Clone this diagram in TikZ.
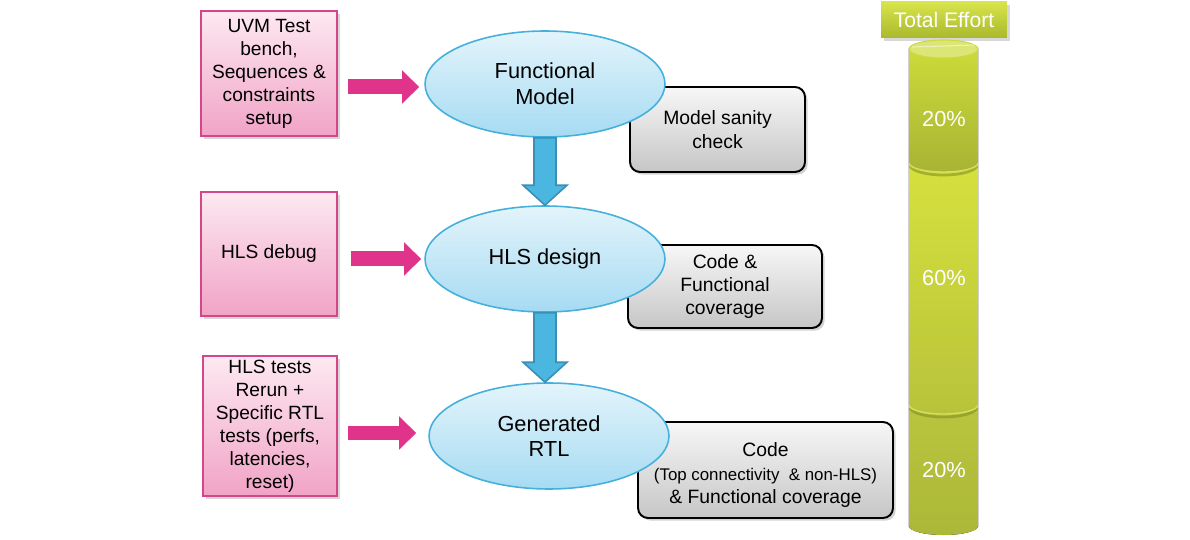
\documentclass[tikz,border=0pt]{standalone}
\usepackage{fontspec}
\setmainfont{Liberation Sans}
\usetikzlibrary{shapes.geometric,shadows,calc,arrows.meta}
\definecolor{pinktop}{HTML}{FDE9F1}
\definecolor{pinkbot}{HTML}{F1A3C6}
\definecolor{pinkborder}{HTML}{D3468A}
\definecolor{arrowpink}{HTML}{E0338A}
\definecolor{elltop}{HTML}{E3F4FB}
\definecolor{ellbot}{HTML}{A6DBF2}
\definecolor{ellborder}{HTML}{45B0DC}
\definecolor{arrowblue}{HTML}{4BB7E0}
\definecolor{arrowblueborder}{HTML}{3A8FB6}
\definecolor{graytop}{HTML}{F7F7F7}
\definecolor{graybot}{HTML}{C6C6C6}
\definecolor{segatop}{HTML}{CDDA3A}
\definecolor{segabot}{HTML}{A8B434}
\definecolor{segbtop}{HTML}{D6E13E}
\definecolor{segbbot}{HTML}{B9C33A}
\definecolor{segctop}{HTML}{BAC53E}
\definecolor{segcbot}{HTML}{ABB838}
\definecolor{segcap}{HTML}{DCE676}
\definecolor{segshade}{HTML}{7F8A22}
\definecolor{seghigh}{HTML}{D5E05A}
\definecolor{totaltop}{HTML}{D8E44C}
\definecolor{totalbot}{HTML}{A9B92C}
\begin{document}
\begin{tikzpicture}[x=0.02cm,y=-0.02cm,
  pinkbox/.style={draw=pinkborder, line width=0.8pt, top color=pinktop, bottom color=pinkbot,
    align=center, inner sep=0pt, font=\fontsize{10.9}{13.1}\selectfont,
    drop shadow={shadow xshift=1.5pt,shadow yshift=-1.5pt,opacity=0.3}},
  ellip/.style={ellipse, draw=ellborder, line width=0.9pt, top color=elltop, bottom color=ellbot,
    minimum width=4.8cm, minimum height=2.12cm, inner sep=0pt, align=center,
    font=\fontsize{12.4}{14.6}\selectfont},
  graybox/.style={draw=black, line width=1.1pt, rounded corners=0.2cm, top color=graytop,
    bottom color=graybot, align=center, inner sep=0pt, font=\fontsize{11}{13.3}\selectfont,
    drop shadow={shadow xshift=1.5pt,shadow yshift=-1.5pt,opacity=0.35}},
  bluearrow/.style={fill=arrowblue, draw=arrowblueborder, line width=0.9pt, line join=miter},
  pinkarrow/.style={draw=arrowpink, line width=0.3cm, -{Triangle[width=0.64cm,length=0.34cm]}},
  pct/.style={text=white, font=\fontsize{12.4}{14}\selectfont},
  totalbox/.style={top color=totaltop, bottom color=totalbot, text=white, inner sep=0pt,
    minimum width=2.52cm, minimum height=0.72cm, font=\fontsize{12}{14}\selectfont,
    drop shadow={shadow xshift=1.5pt,shadow yshift=-1.5pt,opacity=0.3}},
  segline/.style={draw=segshade, line width=1.6pt, opacity=0.55},
  seghl/.style={draw=seghigh, line width=0.8pt}
]
\useasboundingbox (0,0) rectangle (1190,540);
\fill[white] (0,0) rectangle (1190,540);

% pink boxes
\node[pinkbox, minimum width=2.72cm, minimum height=2.5cm] (b1) at (269,73.5)
  {UVM Test\\bench,\\Sequences \&\\constraints\\setup};
\node[pinkbox, minimum width=2.72cm, minimum height=2.48cm] (b2) at (269,254) {HLS debug};
\node[pinkbox, minimum width=2.68cm, minimum height=2.8cm] (b3) at (270,426)
  {HLS tests\\Rerun +\\Specific RTL\\tests (perfs,\\latencies,\\reset)};

% gray boxes (behind ellipses)
\node[graybox, minimum width=3.5cm, minimum height=1.7cm] (g1) at (717.5,129.5)
  {Model sanity\\check};
\node[graybox, minimum width=3.88cm, minimum height=1.66cm] (g2) at (725,286.5)
  {Code \&\\Functional\\coverage};
\node[graybox, minimum width=5.1cm, minimum height=1.92cm] (g3) at (765.5,470)
  {\rule{0pt}{14pt}Code\\{\fontsize{9.6}{12.2}\selectfont(Top connectivity\ \ \& non-HLS)}\\\& Functional coverage};

% ellipses
\node[ellip] (e1) at (545,84) {Functional\\Model};
\node[ellip] (e2) at (545,259) {HLS design};
\node[ellip] (e3) at (549,436) {Generated\\RTL};

% pink arrows
\draw[pinkarrow, shorten <=0.2cm, shorten >=0.1cm] ($(b1.east |- e1.west)+(0,3)$) -- ($(e1.west)+(0,3)$);
\draw[pinkarrow, shorten <=0.26cm, shorten >=0.06cm] (b2.east |- e2.west) -- (e2.west);
\draw[pinkarrow, shorten <=0.2cm, shorten >=0.24cm] ($(b3.east |- e3.west)+(0,-3)$) -- ($(e3.west)+(0,-3)$);

% blue arrows
\draw[bluearrow] ($(e1.south)+(-11,0)$) -- ($(e2.north)+(-11,-20)$) -- ($(e2.north)+(-22,-20)$)
  -- (e2.north) -- ($(e2.north)+(22,-20)$) -- ($(e2.north)+(11,-20)$) -- ($(e1.south)+(11,0)$) -- cycle;
\coordinate (t3) at (e2.south |- e3.north);
\draw[bluearrow] ($(e2.south)+(-11,0)$) -- ($(t3)+(-11,-20)$) -- ($(t3)+(-22,-20)$)
  -- (t3) -- ($(t3)+(22,-20)$) -- ($(t3)+(11,-20)$) -- ($(e2.south)+(11,0)$) -- cycle;

% effort cylinder
\node[totalbox] (tot) at (944,20) {Total Effort};
\fill[top color=segctop, bottom color=segcbot]
  (909,405) -- (909,526) arc[start angle=180,end angle=0,x radius=34.5,y radius=9] -- (978,405) -- cycle;
\draw[segline] (910,407) arc[start angle=180,end angle=0,x radius=33.5,y radius=10];
\fill[top color=segbtop, bottom color=segbbot]
  (909,163) -- (909,405) arc[start angle=180,end angle=0,x radius=34.5,y radius=9] -- (978,163) -- cycle;
\draw[seghl] (909,405) arc[start angle=180,end angle=0,x radius=34.5,y radius=9];
\draw[segline] (910,165) arc[start angle=180,end angle=0,x radius=33.5,y radius=10];
\fill[top color=segatop, bottom color=segabot]
  (909,49) -- (909,163) arc[start angle=180,end angle=0,x radius=34.5,y radius=9] -- (978,49) -- cycle;
\draw[seghl] (909,163) arc[start angle=180,end angle=0,x radius=34.5,y radius=9];
\draw[black!18, line width=0.5pt] (908.5,49) -- (908.5,527) (978.5,49) -- (978.5,527);
\fill[segcap, draw=segatop, line width=0.6pt] (943.5,49) ellipse[x radius=34.5,y radius=9];
\draw[white, opacity=0.5, line width=0.6pt] (912,47) -- (975,45);
\node[pct] (p1) at (944,119) {20\%};
\node[pct] (p2) at (944,278) {60\%};
\node[pct] (p3) at (944,470) {20\%};
\end{tikzpicture}
\end{document}
